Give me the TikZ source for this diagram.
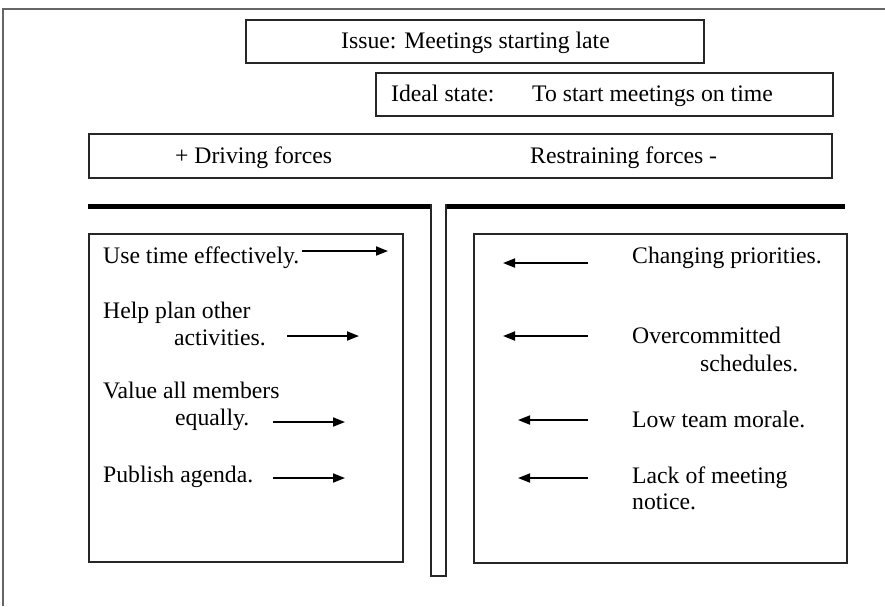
\documentclass[tikz,border=0pt]{standalone}
\usepackage{fontspec}
\setmainfont{Liberation Serif}
\usetikzlibrary{arrows.meta}
\begin{document}
\begin{tikzpicture}[x=1pt,y=-1pt,
  frame/.style={draw=black!85,line width=1.6pt,inner sep=0pt,anchor=north west},
  txt/.style={anchor=base west,inner sep=0pt,font=\fontsize{23.7pt}{27pt}\selectfont},
  force/.style={line width=1.8pt,-{Triangle[length=12pt,width=9pt]}},
]
\useasboundingbox (0,0) rectangle (885,606);
% page border
\draw[draw=black!60,line width=1.5pt] (3,606) -- (3,9) -- (885,9);

% header boxes
\node[frame,minimum width=458pt,minimum height=43pt] (issue) at (245,19) {};
\node[frame,minimum width=457pt,minimum height=43pt] (ideal) at (375,72) {};
\node[frame,minimum width=743pt,minimum height=44pt] (forces) at (88,133) {};

\node[txt] (issuetxt) at (341,48) {Issue: Meetings starting late};
\node[txt] (idealtxt) at (391,101) {Ideal state:};
\node[txt] (goaltxt) at (532,101) {To start meetings on time};
\node[txt] (drivetxt) at (175,163) {+ Driving forces};
\node[txt] (resttxt) at (530,163) {Restraining forces -};

% dividing bar and post
\draw[line width=5pt] (88,206) -- (845,206);
\path[fill=white] (431,204) rectangle (446,576);
\draw[draw=black!85,line width=1.6pt] (431,203.5) -- (431,576) -- (446,576) -- (446,203.5);

% force panels
\node[frame,minimum width=314pt,minimum height=328pt] (left) at (88,233) {};
\node[frame,minimum width=373pt,minimum height=329pt] (right) at (473,233) {};

% driving forces
\node[txt] (d1) at (103,263) {Use time effectively.};
\node[txt] (d2a) at (103,318) {Help plan other};
\node[txt] (d2b) at (174,345) {activities.};
\node[txt] (d3a) at (103,398) {Value all members};
\node[txt] (d3b) at (175,425) {equally.};
\node[txt] (d4) at (103,482) {Publish agenda.};

\coordinate (d1s) at (302,251);  \coordinate (d1e) at (388,251);
\coordinate (d2s) at (287,336);  \coordinate (d2e) at (359,336);
\coordinate (d3s) at (273,422);  \coordinate (d3e) at (345,422);
\coordinate (d4s) at (273,478);  \coordinate (d4e) at (345,478);
\draw[force] (d1s) -- (d1e);
\draw[force] (d2s) -- (d2e);
\draw[force] (d3s) -- (d3e);
\draw[force] (d4s) -- (d4e);

% restraining forces
\node[txt] (r1) at (632,263) {Changing priorities.};
\node[txt] (r2a) at (632,343) {Overcommitted};
\node[txt] (r2b) at (700,371) {schedules.};
\node[txt] (r3) at (632,427) {Low team morale.};
\node[txt] (r4a) at (632,483) {Lack of meeting};
\node[txt] (r4b) at (632,509) {notice.};

\coordinate (r1s) at (588,263);  \coordinate (r1e) at (503,263);
\coordinate (r2s) at (588,336);  \coordinate (r2e) at (503,336);
\coordinate (r3s) at (588,420);  \coordinate (r3e) at (518,420);
\coordinate (r4s) at (588,478);  \coordinate (r4e) at (518,478);
\draw[force] (r1s) -- (r1e);
\draw[force] (r2s) -- (r2e);
\draw[force] (r3s) -- (r3e);
\draw[force] (r4s) -- (r4e);
\end{tikzpicture}
\end{document}
